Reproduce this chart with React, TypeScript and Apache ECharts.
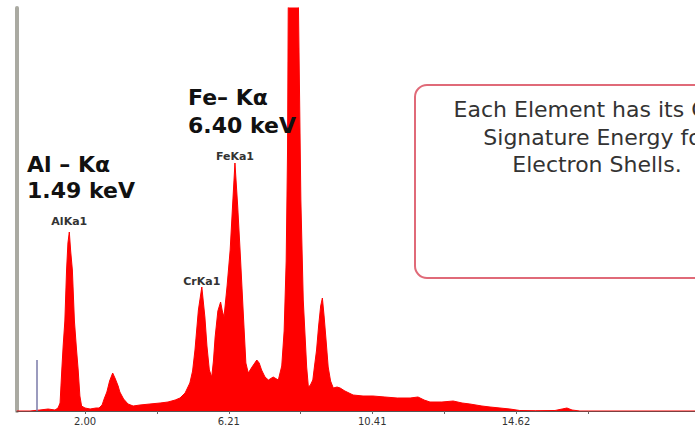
import React, { useEffect, useRef } from "react";
import * as echarts from "echarts";

// X-ray energy (keV) and counts
const energy = [
  0, 0.39, 0.68, 0.92, 1.12, 1.21, 1.27, 1.32, 1.36, 1.41, 1.46, 1.5, 1.54, 1.58, 1.63, 1.69, 1.75, 1.8, 1.85, 1.9, 2.0,
  2.15, 2.32, 2.41, 2.5, 2.57, 2.64, 2.72, 2.81, 2.89, 2.97, 3.02, 3.13, 3.26, 3.41,
  3.61, 3.9, 4.2, 4.43, 4.64, 4.78, 4.93, 5.07,
  5.15, 5.22, 5.32, 5.42, 5.51, 5.57, 5.64, 5.71, 5.76, 5.81, 5.89, 5.97, 6.02, 6.07, 6.16, 6.25, 6.32, 6.39,
  6.47, 6.54, 6.64, 6.71, 6.78, 6.89, 7.03, 7.1, 7.17, 7.27, 7.37, 7.51, 7.66, 7.76, 7.83, 7.89, 7.93, 7.95,
  8.02, 8.09, 8.16, 8.25, 8.32, 8.39, 8.49, 8.54, 8.6, 8.67, 8.72, 8.78, 8.84, 8.9, 8.95, 9.0, 9.06, 9.12,
  9.19, 9.27, 9.38, 9.47, 9.61, 9.85, 10.14, 10.43, 10.78, 11.14, 11.52, 11.75, 11.93, 12.1, 12.45, 12.78,
  13.04, 13.27, 13.62, 13.86, 14.15, 14.44, 14.73, 15.18, 15.76, 15.97, 16.11, 16.26, 16.49, 19.86,
];
const counts = [
  0, 0, 1, 2, 1, 3, 8, 41, 65, 90, 141, 168, 179, 160, 141, 90, 62, 41, 15, 5, 3,
  2, 3, 3, 6, 13, 19, 30, 38, 32, 25, 19, 12, 7, 5,
  6, 7, 8, 9, 11, 13, 18, 28,
  40, 61, 101, 124, 94, 65, 41, 34, 50, 74, 100, 109, 100, 94, 125, 161, 205, 248,
  205, 161, 94, 48, 38, 44, 51, 48, 41, 34, 31, 34, 31, 45, 80, 150, 260, 403,
  560, 640, 560, 403, 211, 111, 44, 24, 26, 31, 45, 61, 85, 105, 113, 95, 70, 44,
  30, 23, 24, 23, 20, 16, 15, 15, 14, 13, 13, 14, 11, 9, 9, 10,
  8, 7, 5, 4, 3, 2, 0.5, 0.3, 0.5, 2, 3, 1, 0, 0,
];

const peakNames = ["AlKa1", "CrKa1", "FeKa1"];
const peakEnergy = [1.54, 5.42, 6.39];
const peakCounts = [179, 124, 248];
const peakLabelGap = [5, 0, 1];

const tickLabels = [2.0, 6.21, 10.41, 14.62];
const tickMarks = [2.0, 4.105, 6.21, 8.31, 10.41, 12.515, 14.62, 16.72];

const markerEnergy = 0.59;
const markerHeight = 51;

export default function App() {
  const ref = useRef<HTMLDivElement>(null);
  useEffect(() => {
    if (!ref.current) return;
    const chart = echarts.init(ref.current, undefined, { renderer: "svg" });
    const data = energy.map((e, i) => [e, counts[i]]);
    chart.setOption({
      animation: false,
      backgroundColor: "#ffffff",
      grid: { left: 16.7, right: 0, top: 8, bottom: 17 },
      xAxis: {
        type: "value",
        min: 0,
        max: 19.86,
        splitLine: { show: false },
        axisLine: { show: true, onZero: false, lineStyle: { color: "#555", width: 1 } },
        axisTick: { show: true, length: 3, customValues: tickMarks, lineStyle: { color: "#666" } },
        axisLabel: {
          customValues: tickLabels,
          formatter: (v: number) => v.toFixed(2),
          margin: 5,
          fontSize: 10,
          fontFamily: "DejaVu Sans",
          color: "#333",
        },
      },
      yAxis: {
        type: "value",
        min: 0,
        max: 403,
        splitLine: { show: false },
        axisLabel: { show: false },
        axisTick: { show: false },
        axisLine: { show: true, lineStyle: { color: "#aaaaa2", width: 4 } },
      },
      series: [
        {
          type: "line",
          data,
          showSymbol: false,
          symbol: "none",
          clip: true,
          lineStyle: { color: "#ff0000", width: 1 },
          areaStyle: { color: "#ff0000", opacity: 1 },
          markLine: {
            silent: true,
            symbol: "none",
            label: { show: false },
            lineStyle: { color: "#7a7aa8", width: 1.5, type: "solid" },
            data: [[{ coord: [markerEnergy, 0] }, { coord: [markerEnergy, markerHeight] }]],
          },
          markPoint: {
            silent: true,
            symbol: "circle",
            symbolSize: 0,
            data: peakNames.map((n, i) => ({
              name: n,
              coord: [peakEnergy[i], peakCounts[i]],
              label: { distance: peakLabelGap[i] },
            })),
            label: {
              show: true,
              position: "top",
              formatter: (p: any) => p.name,
              fontSize: 11,
              fontWeight: "bold",
              fontFamily: "DejaVu Sans",
              color: "#333",
            },
          },
        },
      ],
      graphic: [
        {
          type: "rect",
          z: 90,
          shape: { x: 415, y: 85, width: 380, height: 193, r: 12 },
          style: { fill: "#ffffff", stroke: "#e06a78", lineWidth: 2 },
        },
        {
          type: "text",
          z: 100,
          x: 597,
          y: 96,
          style: {
            text: "Each Element has its Own\nSignature Energy for\nElectron Shells.",
            align: "center",
            verticalAlign: "top",
            lineHeight: 27.5,
            fontSize: 22,
            fontFamily: "DejaVu Sans",
            fill: "#333",
          },
        },
        {
          type: "text",
          z: 100,
          x: 27,
          y: 151,
          style: {
            text: "Al – Kα\n1.49 keV",
            verticalAlign: "top",
            lineHeight: 26,
            fontSize: 22,
            fontWeight: "bold",
            fontFamily: "DejaVu Sans",
            fill: "#111",
          },
        },
        {
          type: "text",
          z: 100,
          x: 188,
          y: 83,
          style: {
            text: "Fe– Kα\n6.40 keV",
            verticalAlign: "top",
            lineHeight: 28,
            fontSize: 22,
            fontWeight: "bold",
            fontFamily: "DejaVu Sans",
            fill: "#111",
          },
        },
      ],
    });
    return () => chart.dispose();
  }, []);
  return (
    <div
      ref={ref}
      style={{ position: "absolute", left: 0, top: 0, width: 695, height: 428, background: "#fff" }}
    />
  );
}
